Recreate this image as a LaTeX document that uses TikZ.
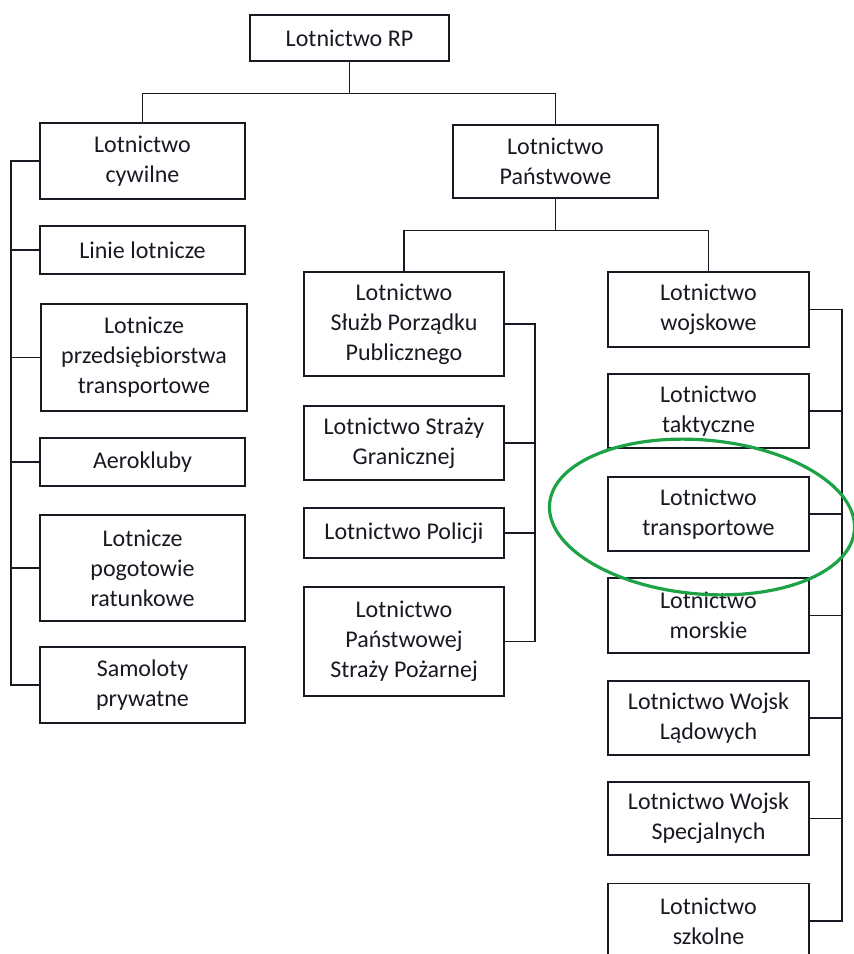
\documentclass[tikz,border=0pt]{standalone}
\usepackage{fontspec}
\setmainfont{Carlito}
\definecolor{markgreen}{RGB}{30,162,70}
\definecolor{ink}{RGB}{25,25,35}
\tikzset{
    box/.style={draw=ink, line width=1.5pt, align=center, text=ink, inner sep=0pt,
        font=\fontsize{24}{30}\selectfont},
    link/.style={draw=ink, line width=1.3pt},
}
\begin{document}
\begin{tikzpicture}[x=1pt, y=-1pt]
        \useasboundingbox (0,0) rectangle (854,954);
        \clip (0,0) rectangle (854,954);
        % top
        \node[box, minimum width=199, minimum height=46] (rp) at (349.5,38) {Lotnictwo RP};
        % civil aviation
        \node[box, minimum width=205, minimum height=76] (cyw) at (142.5,161) {Lotnictwo\\cywilne};
        \node[box, minimum width=205, minimum height=48] (lin) at (142.5,250) {Linie lotnicze};
        \node[box, minimum width=206, minimum height=107] (prz) at (144,357.5) {Lotnicze\\przedsiębiorstwa\\transportowe};
        \node[box, minimum width=205, minimum height=48] (aer) at (142.5,462) {Aerokluby};
        \node[box, minimum width=205, minimum height=106] (pog) at (142.5,568) {Lotnicze\\pogotowie\\ratunkowe};
        \node[box, minimum width=205, minimum height=76] (sam) at (142.5,685) {Samoloty\\prywatne};
        % state aviation
        \node[box, minimum width=205, minimum height=73] (pan) at (555.5,161.5) {Lotnictwo\\Państwowe};
        \node[box, minimum width=200, minimum height=104] (slu) at (404,324) {Lotnictwo\\Służb Porządku\\Publicznego};
        \node[box, minimum width=200, minimum height=74] (str) at (404,443) {Lotnictwo Straży\\Granicznej};
        \node[box, minimum width=200, minimum height=50] (pol) at (404,533) {Lotnictwo Policji};
        \node[box, minimum width=200, minimum height=109] (poz) at (404,641.5) {Lotnictwo\\Państwowej\\Straży Pożarnej};
        % military aviation
        \node[box, minimum width=201, minimum height=75] (woj) at (708.5,309.5) {Lotnictwo\\wojskowe};
        \node[box, minimum width=201, minimum height=74] (tak) at (708.5,411) {Lotnictwo\\taktyczne};
        \node[box, minimum width=201, minimum height=74] (tra) at (708.5,514) {Lotnictwo\\transportowe};
        \node[box, minimum width=201, minimum height=75] (mor) at (708.5,615.5) {Lotnictwo\\morskie};
        \node[box, minimum width=201, minimum height=74] (lad) at (708.5,718) {Lotnictwo Wojsk\\Lądowych};
        \node[box, minimum width=201, minimum height=73] (spe) at (708.5,818.5) {Lotnictwo Wojsk\\Specjalnych};
        \node[box, minimum width=201, minimum height=75] (szk) at (708.5,921) {Lotnictwo\\szkolne};
        % connectors
        \coordinate (lcol) at (11,0);
        \coordinate (mcol) at (535,0);
        \coordinate (rcol) at (842,0);
        \draw[link] (rp.south) -- ++(0,32) coordinate (rpbar) -| (cyw.north);
        \draw[link] (rpbar) -| (pan.north);
        \draw[link] (pan.south) -- ++(0,32) coordinate (panbar) -| (slu.north);
        \draw[link] (panbar) -| (woj.north);
        \draw[link] (cyw.west) -| (lcol |- sam.west) -- (sam.west);
        \foreach \n in {lin,prz,aer,pog}
            \draw[link] (\n.west) -- (lcol |- \n.west);
        \draw[link] (slu.east) -| (mcol |- poz.east) -- (poz.east);
        \foreach \n in {str,pol}
            \draw[link] (\n.east) -- (mcol |- \n.east);
        \draw[link] (woj.east) -| (rcol |- szk.east) -- (szk.east);
        \foreach \n in {tak,tra,mor,lad,spe}
            \draw[link] (\n.east) -- (rcol |- \n.east);
        % highlight
        \draw[markgreen, line width=3.2pt, rotate around={-5:(702,517)}] (702,517) ellipse [x radius=153, y radius=77];
\end{tikzpicture}
\end{document}
